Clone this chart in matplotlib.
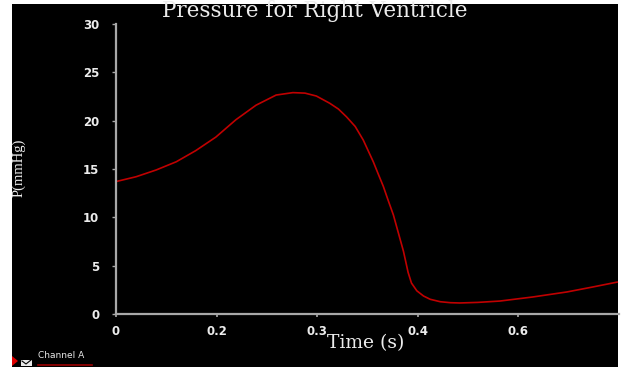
import matplotlib
matplotlib.use("Agg")
import matplotlib.pyplot as plt
from matplotlib.patches import Rectangle, Polygon
from matplotlib.lines import Line2D

# Data
time_s = [0.000, 0.030, 0.060, 0.090, 0.119, 0.149, 0.179, 0.209, 0.239, 0.264,
          0.282, 0.299, 0.319, 0.332, 0.344, 0.357, 0.369, 0.377, 0.384, 0.391, 0.399,
          0.406, 0.414, 0.421, 0.429, 0.436, 0.441, 0.449, 0.459, 0.469, 0.484,
          0.499, 0.513, 0.540, 0.573, 0.622, 0.673, 0.712, 0.748]
pressure = [13.7, 14.2, 14.9, 15.75, 16.9, 18.3, 20.1, 21.6, 22.65, 22.9,
            22.85, 22.55, 21.8, 21.2, 20.4, 19.4, 18.0, 16.8, 15.75, 14.55, 13.2,
            11.8, 10.25, 8.5, 6.5, 4.3, 3.2, 2.4, 1.86, 1.52, 1.27,
            1.17, 1.14, 1.2, 1.34, 1.76, 2.28, 2.8, 3.3]
x_ticks = [0.0, 0.15, 0.30, 0.45, 0.60]
x_tick_labels = ["0", "0.2", "0.3", "0.4", "0.6"]
y_ticks = [0, 5, 10, 15, 20, 25, 30]

W, H = 624, 370
fig = plt.figure(figsize=(W / 100, H / 100), dpi=100, facecolor="white")
# black panel
bg = fig.add_axes([12 / W, 1 - 367 / H, (618 - 12) / W, (367 - 4) / H], zorder=-10)
bg.set_facecolor("black")
bg.set_xticks([]); bg.set_yticks([])
for s in bg.spines.values():
    s.set_visible(False)

ax = fig.add_axes([116 / W, 1 - 314 / H, (618.5 - 116) / W, (314 - 24) / H])
ax.set_facecolor("none")
ax.plot(time_s, pressure, color="#c00000", lw=1.2, solid_joinstyle="round")
ax.set_xlim(0, 0.75)
ax.set_ylim(0, 30)

for s in ["top", "right"]:
    ax.spines[s].set_visible(False)
for s in ["left", "bottom"]:
    ax.spines[s].set_color("#a8a8a8")
    ax.spines[s].set_linewidth(1.6)

ax.set_xticks(x_ticks)
ax.set_xticklabels(x_tick_labels)
ax.set_yticks(y_ticks)
ax.tick_params(axis="y", colors="#a8a8a8", length=3, width=1, pad=9)
ax.tick_params(axis="x", colors="#a8a8a8", length=2, width=1.2, pad=6)
for lab in ax.get_xticklabels() + ax.get_yticklabels():
    lab.set_color("#ececec")
    lab.set_fontsize(8.5)
    lab.set_fontweight("bold")
    lab.set_family("DejaVu Sans")

fig.text(366 / W, 1 - 348 / H, "Time (s)", family="DejaVu Serif", fontsize=13.5,
         color="#ececec", ha="center", va="baseline")
fig.text(18.5 / W, 1 - 168 / H, "P(mmHg)", family="Liberation Serif", fontsize=10.5,
         color="#ececec", ha="center", va="center", rotation=90)
fig.text(315 / W, 1 - 17 / H, "Pressure for Right Ventricle", family="DejaVu Serif",
         fontsize=15.5, color="#ececec", ha="center", va="baseline")

# legend-like footer
fig.patches.append(Polygon([(12 / W, 1 - 356 / H), (18 / W, 1 - 361 / H), (12 / W, 1 - 366 / H)],
                           closed=True, transform=fig.transFigure, facecolor="#e00000",
                           edgecolor="none", zorder=3))
fig.patches.append(Rectangle((21 / W, 1 - 366 / H), 11 / W, 6 / H, transform=fig.transFigure,
                             facecolor="#e8e8e8", edgecolor="none", zorder=3))
fig.lines.append(Line2D([22 / W, 26 / W, 31 / W], [1 - 361 / H, 1 - 364 / H, 1 - 360 / H],
                        transform=fig.transFigure, color="black", lw=0.8, zorder=4))
fig.text(38 / W, 1 - 356 / H, "Channel A", family="DejaVu Sans", fontsize=6.5,
         color="#e8e8e8", ha="left", va="center")
fig.lines.append(Line2D([38 / W, 92 / W], [1 - 364.5 / H, 1 - 364.5 / H],
                        transform=fig.transFigure, color="#9a0000", lw=1.2, zorder=4))

fig.savefig("out.png", dpi=100, facecolor="white")
